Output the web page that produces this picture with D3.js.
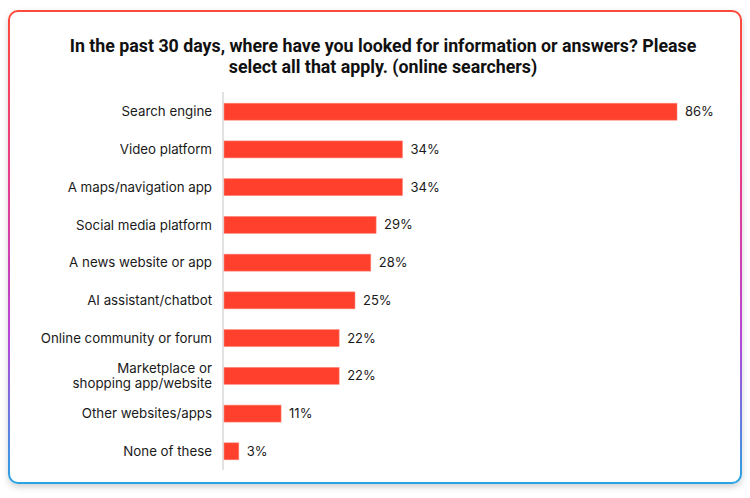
<!DOCTYPE html>
<html>
<head>
  <title>Online search sources</title>
  <script src="https://d3js.org/d3.v7.min.js"></script>
  <style>
    body { margin: 0; background: #fff; }
  </style>
</head>
<body>
<svg width="750" height="498"></svg>
<script>
  const categories = [
    "Search engine",
    "Video platform",
    "A maps/navigation app",
    "Social media platform",
    "A news website or app",
    "AI assistant/chatbot",
    "Online community or forum",
    "Marketplace or\nshopping app/website",
    "Other websites/apps",
    "None of these"
  ];
  const values = [86, 34, 34, 29, 28, 25, 22, 22, 11, 3];
  const titleLines = [
    "In the past 30 days, where have you looked for information or answers? Please",
    "select all that apply. (online searchers)"
  ];

  const width = 750, height = 498;
  const svg = d3.select("svg");

  // card border gradient
  const defs = svg.append("defs");
  const grad = defs.append("linearGradient")
      .attr("id", "border").attr("x1", 0).attr("y1", 0).attr("x2", 0).attr("y2", 1);
  grad.append("stop").attr("offset", "0%").attr("stop-color", "#ff4a3a");
  grad.append("stop").attr("offset", "35%").attr("stop-color", "#e83a8a");
  grad.append("stop").attr("offset", "70%").attr("stop-color", "#b347d9");
  grad.append("stop").attr("offset", "100%").attr("stop-color", "#29a3e3");

  const shadow = defs.append("filter").attr("id", "shadow")
      .attr("x", "-5%").attr("y", "-5%").attr("width", "110%").attr("height", "115%");
  shadow.append("feDropShadow").attr("dx", 0).attr("dy", 3).attr("stdDeviation", 3)
      .attr("flood-color", "#000").attr("flood-opacity", 0.18);

  svg.append("rect")
      .attr("x", 9).attr("y", 11).attr("width", 732).attr("height", 472)
      .attr("rx", 9)
      .attr("fill", "#fff")
      .attr("stroke", "url(#border)")
      .attr("stroke-width", 2)
      .attr("filter", "url(#shadow)");

  // title
  svg.append("text")
      .attr("x", 383).attr("y", 52)
      .attr("text-anchor", "middle")
      .style("font-family", "Roboto, sans-serif")
      .style("font-weight", "bold")
      .style("font-size", "17.8px")
      .style("fill", "#111")
    .selectAll("tspan")
    .data(titleLines)
    .enter().append("tspan")
      .attr("x", 383)
      .attr("dy", (d, i) => i === 0 ? 0 : 21)
      .text(d => d);

  const x = d3.scaleLinear().domain([0, 86]).range([223, 677]);
  const y = d3.scaleBand().domain(categories).range([93, 470]).paddingInner(0.55).paddingOuter(0.27);

  // axis line
  svg.append("line")
      .attr("x1", x(0)).attr("x2", x(0))
      .attr("y1", 92).attr("y2", 470)
      .attr("stroke", "#d9d9d9").attr("stroke-width", 1.5);

  const rows = svg.append("g").selectAll("g")
      .data(categories.map((c, i) => ({ cat: c, value: values[i] })))
      .enter().append("g");

  rows.append("rect")
      .attr("x", x(0) + 1)
      .attr("y", d => y(d.cat))
      .attr("width", d => x(d.value) - x(0) - 1)
      .attr("height", y.bandwidth())
      .attr("fill", "#ff402d")
      .attr("stroke", "#ff8a7d")
      .attr("stroke-width", 0.6);

  rows.append("text")
      .attr("x", d => x(d.value) + 8)
      .attr("y", d => y(d.cat) + y.bandwidth() / 2)
      .attr("dy", "0.35em")
      .style("font-family", "Inter, sans-serif")
      .style("font-size", "13px")
      .style("fill", "#1a1a1a")
      .text(d => d.value + "%");

  const labels = rows.append("text")
      .attr("text-anchor", "end")
      .attr("y", d => y(d.cat) + y.bandwidth() / 2)
      .style("font-family", "Inter, sans-serif")
      .style("font-size", "13.3px")
      .style("fill", "#1a1a1a");

  labels.each(function(d) {
    const lines = d.cat.split("\n");
    const t = d3.select(this);
    lines.forEach((l, i) => {
      t.append("tspan")
        .attr("x", 212)
        .attr("dy", i === 0 ? ((0.35 - (lines.length - 1) * 0.6) + "em") : "1.2em")
        .text(l);
    });
  });
</script>
</body>
</html>
